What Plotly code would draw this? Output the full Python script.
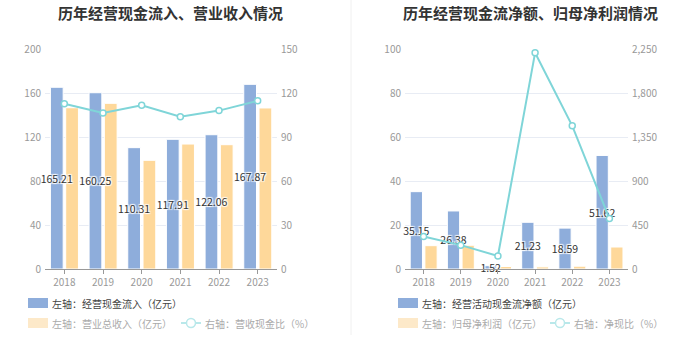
import plotly.graph_objects as go
from plotly.subplots import make_subplots

years = ["2018", "2019", "2020", "2021", "2022", "2023"]

# Left chart
cash_inflow = [165.21, 160.25, 110.31, 117.91, 122.06, 167.87]
revenue = [146.6, 150.6, 98.8, 113.6, 113.0, 146.4]
cash_revenue_ratio = [112.7, 106.4, 111.6, 103.8, 108.0, 114.7]

# Right chart
net_cash_flow = [35.15, 26.38, 1.52, 21.23, 18.59, 51.62]
net_profit = [10.6, 10.8, 1.14, 0.96, 1.27, 10.0]
net_cash_ratio = [332, 244, 133, 2211, 1464, 516]

left_ticks = [0, 40, 80, 120, 160, 200]
left_ticks_r = [0, 30, 60, 90, 120, 150]
right_ticks = [0, 20, 40, 60, 80, 100]
right_ticks_r = [0, 450, 900, 1350, 1800, 2250]

BLUE = "#8eaddb"
ORANGE = "#fed89a"
TEAL = "#7fd5d8"
FONT = "Noto Sans CJK SC"
SHADOW = "1px 1px 1px #fff, -1px -1px 1px #fff, 1px -1px 1px #fff, -1px 1px 1px #fff"
W, H = 700, 359


def px(x):
    return x / W


def py(y):
    return 1 - y / H


fig = make_subplots(rows=1, cols=2, specs=[[{"secondary_y": True}, {"secondary_y": True}]])


def add_panel(col, blue_vals, orange_vals, ratio_vals, n1, n2, n3):
    fig.add_trace(go.Bar(
        x=years, y=orange_vals, name=n2, width=0.33, offset=0.035,
        marker=dict(color=ORANGE, line=dict(color="#ffffff", width=1)),
    ), row=1, col=col, secondary_y=False)
    fig.add_trace(go.Bar(
        x=years, y=blue_vals, name=n1, width=0.33, offset=-0.36,
        marker=dict(color=BLUE, line=dict(color="#ffffff", width=1)),
        texttemplate="%{y:.2f}", textposition="inside", insidetextanchor="middle",
        constraintext="none", textangle=0, cliponaxis=False,
        insidetextfont=dict(color="#333333", size=10.5, family=FONT, shadow=SHADOW),
    ), row=1, col=col, secondary_y=False)
    fig.add_trace(go.Scatter(
        x=years, y=ratio_vals, name=n3, mode="lines+markers",
        line=dict(color=TEAL, width=2), cliponaxis=False,
        marker=dict(symbol="circle", size=6, color="#ffffff", line=dict(color=TEAL, width=1.5)),
    ), row=1, col=col, secondary_y=True)


add_panel(1, cash_inflow, revenue, cash_revenue_ratio,
          "左轴：经营现金流入（亿元）", "左轴：营业总收入（亿元）", "右轴：营收现金比（%）")
add_panel(2, net_cash_flow, net_profit, net_cash_ratio,
          "左轴：经营活动现金流净额（亿元）", "左轴：归母净利润（亿元）", "右轴：净现比（%）")

ydom = [py(269), py(49)]
axis_font = dict(family=FONT, size=10, color="#999999")

fig.update_layout(
    width=W, height=H,
    margin=dict(l=0, r=0, t=0, b=0, autoexpand=False),
    paper_bgcolor="#ffffff", plot_bgcolor="#ffffff",
    barmode="overlay",
    font=dict(family=FONT, size=10, color="#333333"),
    xaxis=dict(domain=[px(45), px(277)]),
    xaxis2=dict(domain=[px(405), px(628)]),
    yaxis=dict(domain=ydom), yaxis2=dict(domain=ydom),
    yaxis3=dict(domain=ydom), yaxis4=dict(domain=ydom),
    showlegend=False,
)

fig.update_xaxes(showline=True, linecolor="#999999", linewidth=1, ticks="outside",
                 tickcolor="#999999", ticklen=4, tickfont=axis_font, showgrid=False)

fig.update_yaxes(range=[0, 200], tickvals=left_ticks, showgrid=True, gridcolor="#e8ecf4",
                 tickfont=axis_font, zeroline=False, ticklabelstandoff=3,
                 row=1, col=1, secondary_y=False)
fig.update_yaxes(range=[0, 150], tickvals=left_ticks_r, showgrid=False,
                 tickfont=axis_font, zeroline=False, ticklabelstandoff=3,
                 row=1, col=1, secondary_y=True)
fig.update_yaxes(range=[0, 100], tickvals=right_ticks, showgrid=True, gridcolor="#e8ecf4",
                 tickfont=axis_font, zeroline=False, ticklabelstandoff=3,
                 row=1, col=2, secondary_y=False)
fig.update_yaxes(range=[0, 2250], tickvals=right_ticks_r, tickformat=",d", showgrid=False,
                 tickfont=axis_font, zeroline=False, ticklabelstandoff=3,
                 row=1, col=2, secondary_y=True)

# Titles
fig.add_annotation(text="<b>历年经营现金流入、营业收入情况</b>", x=px(170), y=py(12),
                   xref="paper", yref="paper", showarrow=False, xanchor="center", yanchor="middle",
                   font=dict(size=15, color="#333333", family=FONT))
fig.add_annotation(text="<b>历年经营现金流净额、归母净利润情况</b>", x=px(530), y=py(12),
                   xref="paper", yref="paper", showarrow=False, xanchor="center", yanchor="middle",
                   font=dict(size=15, color="#333333", family=FONT))

# Panel separator
fig.add_shape(type="line", xref="paper", yref="paper", x0=px(351), x1=px(351), y0=1, y1=py(335),
              line=dict(color="#f0f0f0", width=1))


# Legends (drawn manually)
def swatch(x0, y0, color):
    fig.add_shape(type="rect", xref="paper", yref="paper",
                  x0=px(x0), x1=px(x0 + 20), y0=py(y0 - 5), y1=py(y0 + 5),
                  fillcolor=color, line=dict(width=0), layer="above")


def line_swatch(x0, y0):
    fig.add_shape(type="line", xref="paper", yref="paper",
                  x0=px(x0), x1=px(x0 + 20), y0=py(y0), y1=py(y0),
                  line=dict(color="#b9e8ea", width=2), layer="above")
    fig.add_shape(type="circle", xref="paper", yref="paper",
                  x0=px(x0 + 5.5), x1=px(x0 + 14.5), y0=py(y0 - 4.5), y1=py(y0 + 4.5),
                  fillcolor="#ffffff", line=dict(color="#b9e8ea", width=1.5), layer="above")


def legend_text(x, y, text, color):
    fig.add_annotation(text=text, x=px(x), y=py(y), xref="paper", yref="paper",
                       showarrow=False, xanchor="left", yanchor="middle",
                       font=dict(size=10, color=color, family=FONT))


legend_rows = [
    (28, 303, "左轴：经营现金流入（亿元）", BLUE, "#444444"),
    (28, 323, "左轴：营业总收入（亿元）", "#fde9c9", "#aaaaaa"),
    (398, 303, "左轴：经营活动现金流净额（亿元）", BLUE, "#444444"),
    (398, 323, "左轴：归母净利润（亿元）", "#fde9c9", "#aaaaaa"),
]
for x0, y0, t, c, tc in legend_rows:
    swatch(x0, y0, c)
    legend_text(x0 + 22, y0, t, tc)

for x0, y0, t in [(181, 323, "右轴：营收现金比（%）"), (550, 323, "右轴：净现比（%）")]:
    line_swatch(x0, y0)
    legend_text(x0 + 22, y0, t, "#aaaaaa")

fig.write_html("out.html", config={"displayModeBar": False},
               post_script="document.body.style.margin='0';")
